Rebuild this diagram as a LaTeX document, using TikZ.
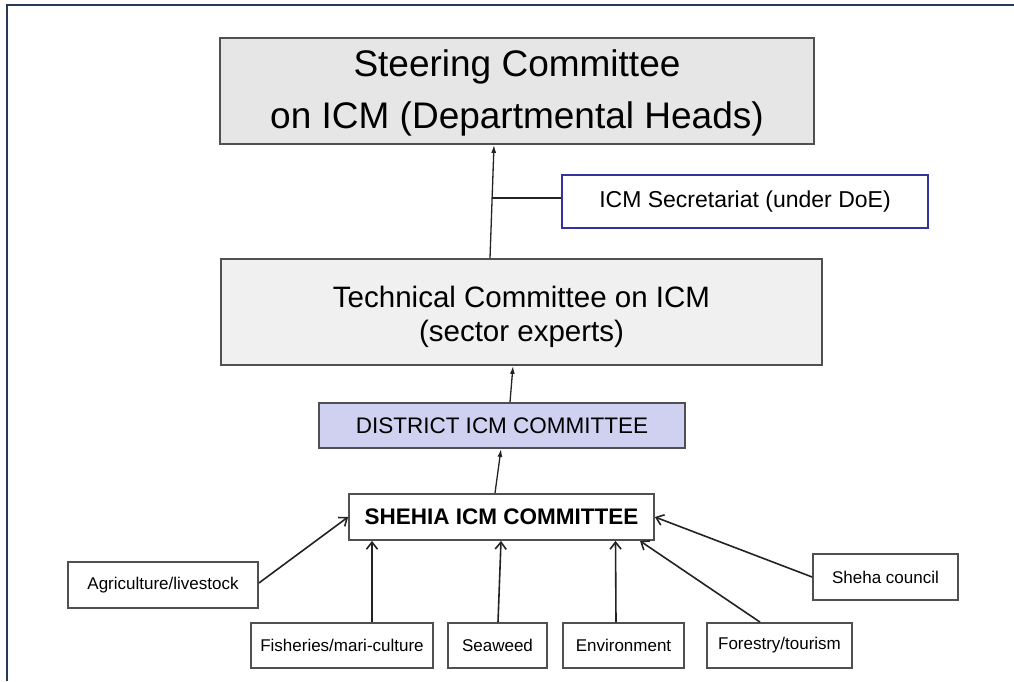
\documentclass[tikz,border=0pt]{standalone}
\usepackage{fontspec}
\setmainfont{Liberation Sans}
\usetikzlibrary{arrows.meta,calc}
\definecolor{framec}{RGB}{38,58,88}
\definecolor{boxborder}{RGB}{80,80,80}
\definecolor{steerfill}{RGB}{230,230,230}
\definecolor{techfill}{RGB}{240,240,240}
\definecolor{distfill}{RGB}{208,208,240}
\definecolor{secborder}{RGB}{50,50,160}
\definecolor{linec}{RGB}{35,35,35}
\tikzset{
  box/.style={draw=boxborder, line width=1.8pt, inner sep=0pt, align=center, text=black},
  boxtext/.style={inner sep=0pt, align=center, text=black},
  smallbox/.style={box, fill=white, minimum height=45pt, font=\fontsize{17}{20}\selectfont},
  uparrow/.style={draw=linec, line width=1.3pt, -{Latex[length=8pt,width=5pt]}},
  feedarrow/.style={draw=linec, line width=1.6pt, -{Straight Barb[length=7pt,width=11pt,line width=1.6pt]}},
}
\begin{document}
\begin{tikzpicture}[x=1pt,y=-1pt]
\useasboundingbox (0,0) rectangle (1014,681);
\fill[white] (0,0) rectangle (1014,681);
\draw[framec, line width=2.5pt] (1014,5) -- (7,5) -- (7,681);

\node[box, fill=steerfill, minimum width=594pt, minimum height=106pt] (steer) at (517,91) {};
\node[boxtext, font=\fontsize{37}{52}\selectfont] (steertxt) at ([yshift=-1.5pt]steer.center)
      {Steering Committee\\on ICM (Departmental Heads)};
\node[box, draw=secborder, fill=white, minimum width=366pt, minimum height=53pt,
      font=\fontsize{23}{27}\selectfont] (sec) at (745,201.5)
      {ICM Secretariat (under DoE)};
\node[box, fill=techfill, minimum width=601pt, minimum height=106pt] (tech) at (521.5,312) {};
\node[boxtext, font=\fontsize{29.5}{34}\selectfont] (techtxt) at ([yshift=-4.5pt]tech.center)
      {Technical Committee on ICM\\(sector experts)};
\node[box, fill=distfill, minimum width=366pt, minimum height=45pt,
      font=\fontsize{22.5}{26}\selectfont] (dist) at (502,425.5)
      {DISTRICT ICM COMMITTEE};
\node[box, fill=white, minimum width=305pt, minimum height=46pt,
      font=\fontsize{22.5}{26}\selectfont\bfseries] (shehia) at (501.5,517)
      {SHEHIA ICM COMMITTEE};

\node[smallbox, minimum width=190pt, minimum height=46pt] (agri) at (163,585) {Agriculture/livestock};
\node[smallbox, minimum width=182pt] (fish) at (342,645.5) {Fisheries/mari-culture};
\node[smallbox, minimum width=99pt] (sea) at (497.5,645.5) {Seaweed};
\node[smallbox, minimum width=121pt] (env) at (623.5,645.5) {Environment};
\node[smallbox, minimum width=145pt] (forest) at (779.5,645.5) {Forestry/tourism};
\node[smallbox, minimum width=145pt, minimum height=46pt] (sheha) at (885.5,577) {Sheha council};

% upper chain
\coordinate (a1) at ([xshift=-31.5pt]tech.north);
\coordinate (a2) at ([xshift=-23pt]steer.south);
\draw[uparrow] (a1) -- (a2);
\coordinate (j) at ($(a1)!0.53!(a2)$);
\draw[draw=linec, line width=1.3pt] (j) -- (j -| sec.west);
\draw[uparrow] ([xshift=8pt]dist.north) -- ([xshift=-8.5pt]tech.south);
\draw[uparrow] ([xshift=-6.5pt]shehia.north) -- ([xshift=-1pt]dist.south);

% feeding arrows
\draw[feedarrow] ([yshift=2pt]agri.east) -- (shehia.west);
\draw[feedarrow] ([xshift=30pt]fish.north) -- ([xshift=-129.5pt]shehia.south);
\draw[feedarrow] ([xshift=0.5pt]sea.north) -- ([xshift=-0.5pt]shehia.south);
\draw[feedarrow] ([xshift=-7.5pt]env.north) -- ([xshift=114pt]shehia.south);
\draw[feedarrow] ([xshift=-19.5pt]forest.north) -- ([xshift=138.5pt]shehia.south);
\draw[feedarrow] (sheha.west) -- (shehia.east);
\end{tikzpicture}
\end{document}
